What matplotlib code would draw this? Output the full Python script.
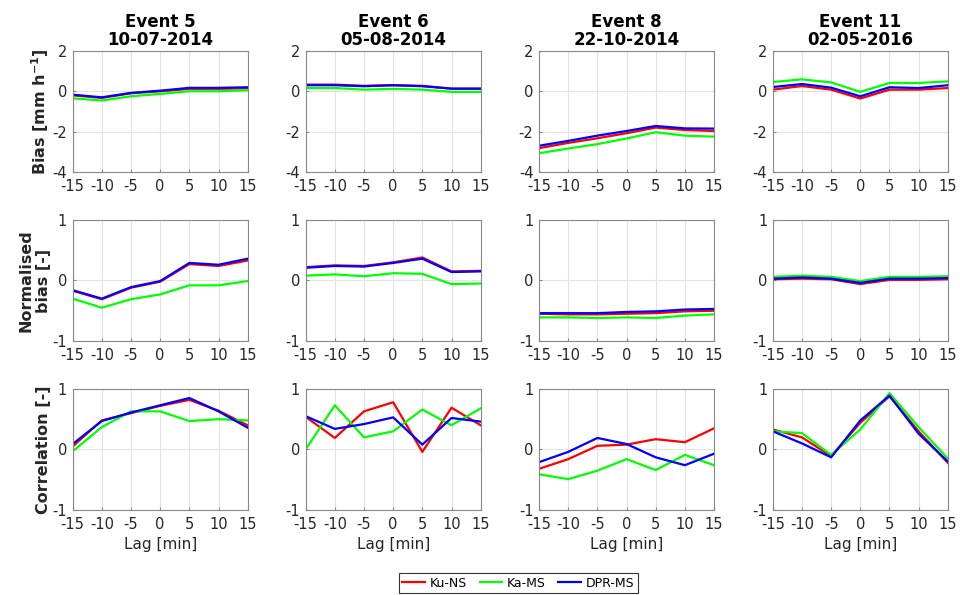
import matplotlib
matplotlib.use("Agg")
import matplotlib.pyplot as plt

plt.rcParams["axes.unicode_minus"] = False

# lag axis
lags = [-15, -10, -5, 0, 5, 10, 15]

events = ["Event 5", "Event 6", "Event 8", "Event 11"]
dates = ["10-07-2014", "05-08-2014", "22-10-2014", "02-05-2016"]
series_names = ["Ku-NS", "Ka-MS", "DPR-MS"]

# Bias [mm h-1], one list per event: Ku-NS, Ka-MS, DPR-MS
bias_ku = [
    [-0.2, -0.33, -0.1, 0.0, 0.12, 0.12, 0.15],
    [0.33, 0.33, 0.27, 0.3, 0.27, 0.13, 0.13],
    [-2.82, -2.56, -2.33, -2.08, -1.8, -1.92, -1.97],
    [0.08, 0.26, 0.08, -0.36, 0.08, 0.08, 0.16],
]
bias_ka = [
    [-0.35, -0.46, -0.25, -0.13, 0.0, 0.0, 0.05],
    [0.16, 0.16, 0.08, 0.12, 0.08, -0.03, -0.03],
    [-3.07, -2.84, -2.62, -2.34, -2.03, -2.2, -2.25],
    [0.46, 0.59, 0.44, -0.03, 0.41, 0.41, 0.49],
]
bias_dpr = [
    [-0.17, -0.3, -0.08, 0.03, 0.17, 0.17, 0.2],
    [0.3, 0.3, 0.25, 0.3, 0.25, 0.13, 0.13],
    [-2.7, -2.46, -2.2, -1.97, -1.72, -1.84, -1.85],
    [0.21, 0.36, 0.18, -0.25, 0.2, 0.16, 0.3],
]

# Normalised bias [-]
nbias_ku = [
    [-0.17, -0.31, -0.12, -0.02, 0.27, 0.24, 0.33],
    [0.22, 0.25, 0.24, 0.3, 0.38, 0.15, 0.16],
    [-0.55, -0.56, -0.56, -0.55, -0.54, -0.51, -0.5],
    [0.02, 0.03, 0.02, -0.06, 0.01, 0.01, 0.02],
]
nbias_ka = [
    [-0.3, -0.45, -0.31, -0.23, -0.08, -0.08, -0.01],
    [0.08, 0.1, 0.07, 0.12, 0.11, -0.06, -0.05],
    [-0.61, -0.61, -0.62, -0.61, -0.62, -0.58, -0.56],
    [0.06, 0.08, 0.06, -0.01, 0.06, 0.06, 0.07],
]
nbias_dpr = [
    [-0.16, -0.3, -0.11, -0.01, 0.29, 0.26, 0.36],
    [0.21, 0.24, 0.23, 0.29, 0.36, 0.14, 0.15],
    [-0.54, -0.54, -0.54, -0.52, -0.51, -0.48, -0.47],
    [0.03, 0.05, 0.03, -0.04, 0.03, 0.03, 0.04],
]

# Correlation [-]
corr_ku = [
    [0.05, 0.48, 0.6, 0.72, 0.82, 0.64, 0.4],
    [0.54, 0.19, 0.63, 0.78, -0.04, 0.69, 0.4],
    [-0.32, -0.16, 0.06, 0.08, 0.17, 0.12, 0.35],
    [0.33, 0.2, -0.11, 0.44, 0.88, 0.3, -0.22],
]
corr_ka = [
    [-0.03, 0.37, 0.63, 0.63, 0.47, 0.5, 0.48],
    [0.0, 0.73, 0.2, 0.3, 0.66, 0.4, 0.68],
    [-0.41, -0.49, -0.35, -0.16, -0.34, -0.09, -0.26],
    [0.3, 0.27, -0.09, 0.33, 0.93, 0.37, -0.15],
]
corr_dpr = [
    [0.09, 0.47, 0.61, 0.73, 0.85, 0.63, 0.36],
    [0.55, 0.34, 0.42, 0.53, 0.08, 0.52, 0.46],
    [-0.21, -0.04, 0.19, 0.09, -0.13, -0.26, -0.07],
    [0.3, 0.1, -0.13, 0.48, 0.89, 0.26, -0.2],
]

rows = [
    (bias_ku, bias_ka, bias_dpr),
    (nbias_ku, nbias_ka, nbias_dpr),
    (corr_ku, corr_ka, corr_dpr),
]
row_ylabels = ["Bias [mm h$^{\\mathbf{-1}}$]", "Normalised\nbias [-]", "Correlation [-]"]
row_ylims = [(-4, 2), (-1, 1), (-1, 1)]
row_yticks = [[-4, -2, 0, 2], [-1, 0, 1], [-1, 0, 1]]
colors = ["#ff0000", "#00ff00", "#0000ff"]

fig = plt.figure(figsize=(9.6, 5.95), dpi=100)

col_left = [0.0757, 0.3184, 0.5615, 0.805]
row_bottom = [0.711, 0.4269, 0.1429]
ax_w, ax_h = 0.1823, 0.2034

handles = []
for r, (ku, ka, dpr) in enumerate(rows):
    for c in range(4):
        ax = fig.add_axes([col_left[c], row_bottom[r], ax_w, ax_h])
        for data, col, name in zip((ku, ka, dpr), colors, series_names):
            ln, = ax.plot(lags, data[c], color=col, lw=1.6, label=name)
            if r == 0 and c == 0:
                handles.append(ln)
        ax.set_xlim(-15, 15)
        ax.set_ylim(*row_ylims[r])
        ax.set_xticks(lags)
        ax.set_yticks(row_yticks[r])
        ax.grid(True, color="#e3e3e3", lw=0.8)
        ax.set_axisbelow(True)
        for sp in ax.spines.values():
            sp.set_color("#888888")
            sp.set_linewidth(0.8)
        ax.tick_params(direction="in", length=2.5, colors="#888888",
                       labelcolor="#262626", labelsize=10.5)
        ax.tick_params(axis="x", pad=5)
        ax.tick_params(axis="y", pad=4)
        if r == 0:
            ax.set_title(f"{events[c]}\n{dates[c]}", fontsize=12,
                         fontweight="bold", linespacing=1.0, pad=4)
        if r == 2:
            ax.set_xlabel("Lag [min]", fontsize=11, color="#262626", labelpad=4)
        if c == 0:
            ax.set_ylabel(row_ylabels[r], fontsize=11.5, fontweight="bold",
                          color="#262626", linespacing=1.25, labelpad=1)

leg = fig.legend(handles=handles, loc="center", bbox_to_anchor=(0.54, 0.02),
                 ncol=3, fontsize=9, frameon=True, fancybox=False,
                 handlelength=1.8, handletextpad=0.4, columnspacing=1.0,
                 borderpad=0.3)
leg.get_frame().set_edgecolor("black")
leg.get_frame().set_linewidth(0.8)

fig.savefig("out.png", dpi=100)
